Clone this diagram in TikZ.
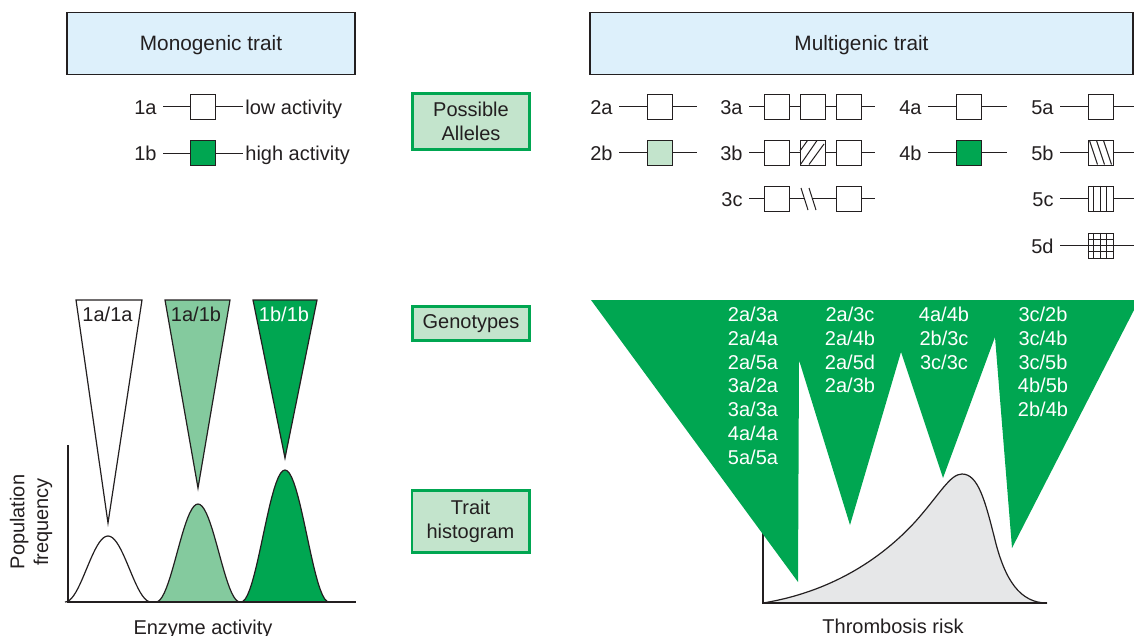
\documentclass[tikz,border=0pt]{standalone}
\usepackage{fontspec}
\setmainfont{Liberation Sans}
\usetikzlibrary{calc}
\definecolor{dgreen}{HTML}{00A651}
\definecolor{mgreen}{HTML}{84CA9E}
\definecolor{lgreen}{HTML}{C3E4CC}
\definecolor{lblue}{HTML}{DDF0FB}
\definecolor{lgray}{HTML}{E6E7E8}
\definecolor{ink}{HTML}{231F20}

\begin{document}
\begin{tikzpicture}[
    x=0.5pt, y=-0.5pt,
    every node/.style={font=\fontsize{10}{11.85}\selectfont, text=ink},
    hdr/.style={draw=ink, line width=0.6pt, fill=lblue, minimum height=31pt,
                font=\fontsize{10.4}{12}\selectfont, text height=7.4pt, text depth=0pt},
    tag/.style={draw=dgreen, line width=1.3pt, fill=lgreen, minimum width=58.7pt,
                align=center, inner sep=0pt},
    lbl/.style={inner sep=3pt, text height=7.2pt, text depth=0pt},
    gene/.style={draw=ink, line width=0.5pt, fill=white, minimum size=12.5pt, inner sep=0pt},
    wire/.style={draw=ink, line width=0.5pt},
    gtxt/.style={text=white, align=center, inner sep=0pt, anchor=north},
  ]
    \useasboundingbox (0,0) rectangle (1134,636);

    % headers
    \node[hdr, minimum width=144pt]   (mono)  at (211,43.5)   {Monogenic trait};
    \node[hdr, minimum width=271.5pt] (multi) at (861.5,43.5) {Multigenic trait};

    % middle column
    \node[tag, minimum height=28.2pt] (alleles) at (471,121.5) {Possible\\Alleles};
    \node[tag, minimum height=17.2pt] (gtypes)  at (471,323.5) {Genotypes};
    \node[tag, minimum height=31.2pt] (hist)    at (470.5,521.5) {Trait\\histogram};

    % monogenic alleles
    \node[lbl, anchor=east] (t1a) at (163,107) {1a};
    \node[gene] (g1a) at (202.5,107) {};
    \node[lbl, anchor=west, inner sep=1pt] (d1a) at (243,107) {low activity};
    \node[lbl, anchor=east] (t1b) at (163,153.5) {1b};
    \node[gene, fill=dgreen] (g1b) at (202.5,153.5) {};
    \node[lbl, anchor=west, inner sep=1pt] (d1b) at (243,153.5) {high activity};
    \draw[wire] (t1a) -- (g1a) -- (d1a);
    \draw[wire] (t1b) -- (g1b) -- (d1b);

    % multigenic alleles: gene 2
    \node[lbl, anchor=east] (t2a) at (619,107) {2a};
    \node[gene] (g2a) at (659.5,107) {};
    \coordinate (e2a) at (697,107);
    \node[lbl, anchor=east] (t2b) at (619,153) {2b};
    \node[gene, fill=lgreen] (g2b) at (659.5,153) {};
    \coordinate (e2b) at (697,153);
    \draw[wire] (t2a) -- (g2a) -- (e2a);
    \draw[wire] (t2b) -- (g2b) -- (e2b);

    % gene 3
    \node[lbl, anchor=east] (t3a) at (749,107) {3a};
    \node[gene] (g3a1) at (776.5,107) {};
    \node[gene] (g3a2) at (812.5,107) {};
    \node[gene] (g3a3) at (848.5,107) {};
    \coordinate (e3a) at (875,107);
    \node[lbl, anchor=east] (t3b) at (749,153) {3b};
    \node[gene] (g3b1) at (776.5,153) {};
    \node[gene] (g3b2) at (812.5,153) {};
    \node[gene] (g3b3) at (848.5,153) {};
    \coordinate (e3b) at (875,153);
    \node[lbl, anchor=east] (t3c) at (749,199) {3c};
    \node[gene] (g3c1) at (776.5,199) {};
    \coordinate (c3a) at (804.5,199);
    \coordinate (c3b) at (812.5,199);
    \node[gene] (g3c3) at (848.5,199) {};
    \coordinate (e3c) at (875,199);
    \draw[wire] (t3a) -- (g3a1) -- (g3a2) -- (g3a3) -- (e3a);
    \draw[wire] (t3b) -- (g3b1) -- (g3b2) -- (g3b3) -- (e3b);
    \draw[wire] (t3c) -- (g3c1) -- (c3a) (c3b) -- (g3c3) -- (e3c);
    \foreach \p in {c3a,c3b}
      \draw[wire] ($(\p)+(-3.5,-11)$) -- ($(\p)+(3.5,11)$);
    \foreach \a/\b/\c/\d in {0.5/11/8/0.5, 1/24.5/17.5/0.5, 9.5/24.5/24.5/4}
      \draw[wire] ($(g3b2.north west)+(\a,\b)$) -- ($(g3b2.north west)+(\c,\d)$);

    % gene 4
    \node[lbl, anchor=east] (t4a) at (928,107) {4a};
    \node[gene] (g4a) at (968.5,107) {};
    \coordinate (e4a) at (1007,107);
    \node[lbl, anchor=east] (t4b) at (928,153) {4b};
    \node[gene, fill=dgreen] (g4b) at (968.5,153) {};
    \coordinate (e4b) at (1007,153);
    \draw[wire] (t4a) -- (g4a) -- (e4a);
    \draw[wire] (t4b) -- (g4b) -- (e4b);

    % gene 5
    \foreach \s/\y in {a/107, b/153, c/199, d/246} {
      \node[lbl, anchor=east] (t5\s) at (1060,\y) {5\s};
      \node[gene] (g5\s) at (1100.5,\y) {};
      \coordinate (e5\s) at (1134,\y);
      \draw[wire] (t5\s) -- (g5\s) -- (e5\s);
    }
    \foreach \a/\c in {2/10, 9/17, 16/24}
      \draw[wire] ($(g5b.north west)+(\a,0.5)$) -- ($(g5b.north west)+(\c,24.5)$);
    \foreach \u in {6.25,12.5,18.75}
      \draw[wire] ($(g5c.north west)+(\u,0)$) -- ($(g5c.south west)+(\u,0)$);
    \foreach \u in {6.25,12.5,18.75} {
      \draw[wire] ($(g5d.north west)+(\u,0)$) -- ($(g5d.south west)+(\u,0)$);
      \draw[wire] ($(g5d.north west)+(0,\u)$) -- ($(g5d.north east)+(0,\u)$);
    }

    % monogenic genotypes
    \filldraw[fill=white,  draw=ink, line width=0.6pt] (76,300) -- (142,300) -- (108,523) -- cycle;
    \filldraw[fill=mgreen, draw=ink, line width=0.6pt] (165,300) -- (230,300) -- (198,488) -- cycle;
    \filldraw[fill=dgreen, draw=ink, line width=0.6pt] (253,300) -- (317,300) -- (285,458) -- cycle;
    \node[lbl] (aa) at (107.5,314) {1a/1a};
    \node[lbl] (ab) at (196,314)   {1a/1b};
    \node[lbl, text=white] (bb) at (284,314) {1b/1b};

    % monogenic histogram
    \foreach \c/\w/\h/\col in {108/43/66/white, 198/42/98/mgreen, 285/44/132/dgreen}
      \filldraw[fill=\col, draw=ink, line width=0.6pt]
        plot[domain=-1:1, samples=41, variable=\t] ({\c+\w*\t}, {602-\h*(1+cos(180*\t))/2});
    \draw[ink, line width=0.7pt] (68,445) -- (68,602) -- (356,602);
    \node[align=center, rotate=90] (popfreq) at (31,522) {Population\\frequency};
    \node[lbl] (enzyme) at (203,627) {Enzyme activity};

    % multigenic histogram
    \filldraw[fill=lgray, draw=ink, line width=0.6pt]
      (763,603) .. controls (830,592) and (880,560) .. (915,522)
      .. controls (940,494) and (950,474) .. (962,474)
      .. controls (978,474) and (985,500) .. (995,540)
      .. controls (1005,580) and (1020,603) .. (1047,603) -- cycle;
    \draw[ink, line width=0.7pt] (763,520) -- (763,603) -- (1047,603);
    \node[lbl] (risk) at (893,626) {Thrombosis risk};

    % multigenic genotypes
    \fill[dgreen] (591,300) -- (798,582) -- (799,360) -- (850,525) -- (901,352)
      -- (943,478) -- (995,337) -- (1012,548) -- (1134,310) -- (1134,300) -- cycle;
    \node[gtxt] (col1) at (753,307) {2a/3a\\2a/4a\\2a/5a\\3a/2a\\3a/3a\\4a/4a\\5a/5a};
    \node[gtxt] (col2) at (850,307) {2a/3c\\2a/4b\\2a/5d\\2a/3b};
    \node[gtxt] (col3) at (944,307) {4a/4b\\2b/3c\\3c/3c};
    \node[gtxt] (col4) at (1043,307) {3c/2b\\3c/4b\\3c/5b\\4b/5b\\2b/4b};
  \end{tikzpicture}
\end{document}
